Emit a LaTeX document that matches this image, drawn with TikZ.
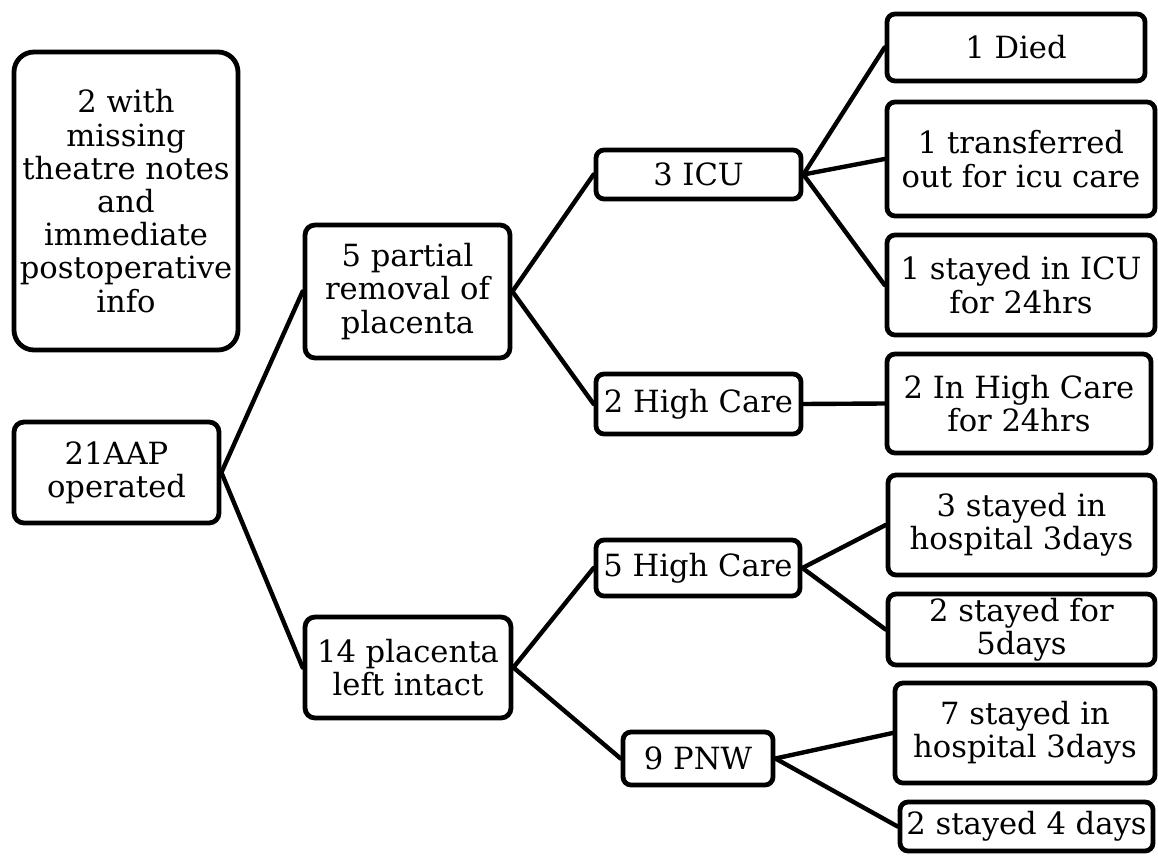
\documentclass[tikz,border=0pt]{standalone}
\usepackage{fontspec}
\setmainfont{DejaVu Serif}
\begin{document}
\begin{tikzpicture}[x=0.5pt, y=-0.5pt,
  box/.style={draw=black, line width=2.4pt, rounded corners=4pt, fill=white,
    inner sep=0pt, align=center,
    font=\fontsize{15.3}{16.6}\selectfont},
  link/.style={draw=black, line width=2.2pt, line cap=round}]
\useasboundingbox (0,0) rectangle (1158,856);

% first column
\node[box, rounded corners=10pt, minimum width=112pt, minimum height=149pt] (miss) at (126,201)
  {2 with\\missing\\theatre notes\\and\\immediate\\postoperative\\info};
\node[box, rounded corners=5pt, minimum width=102.5pt, minimum height=50.5pt] (root) at (116.5,472.5)
  {21AAP\\operated};

% second column
\node[box, rounded corners=5pt, minimum width=102.5pt, minimum height=66.5pt] (partial) at (407.5,291.5)
  {5 partial\\removal of\\placenta};
\node[box, rounded corners=5pt, minimum width=103pt, minimum height=50.5pt] (intact) at (408,667.5)
  {14 placenta\\left intact};

% third column
\node[box, minimum width=102.5pt, minimum height=24.5pt] (icu) at (698.5,174.5) {3 ICU};
\node[box, minimum width=102.5pt, minimum height=30pt] (hcA) at (698.5,404) {2 High Care};
\node[box, minimum width=102pt, minimum height=28pt] (hcB) at (698,568) {5 High Care};
\node[box, minimum width=75pt, minimum height=26.5pt] (pnw) at (698,758.5) {9 PNW};

% outcomes
\node[box, minimum width=129pt, minimum height=33.5pt] (died) at (1016,47.5) {1 Died};
\node[box, minimum width=134pt, minimum height=57pt] (transf) at (1021,159)
  {1 transferred\\out for icu care};
\node[box, minimum width=134pt, minimum height=50pt] (stayicu) at (1021,285)
  {1 stayed in ICU\\for 24hrs};
\node[box, minimum width=132pt, minimum height=49.5pt] (inhc) at (1019,403.5)
  {2 In High Care\\for 24hrs};
\node[box, minimum width=133.5pt, minimum height=50pt] (stThree) at (1021.5,525)
  {3 stayed in\\hospital 3days};
\node[box, minimum width=133.5pt, minimum height=35.5pt] (stFive) at (1021.5,629.5)
  {2 stayed for\\5days};
\node[box, minimum width=130pt, minimum height=50pt] (stSeven) at (1025,733)
  {7 stayed in\\hospital 3days};
\node[box, minimum width=126.5pt, minimum height=24.5pt] (stFour) at (1026.5,826.5)
  {2 stayed 4 days};

% connectors
\draw[link] (root.east) -- (partial.west);
\draw[link] (root.east) -- (intact.west);
\draw[link] (partial.east) -- (icu.west);
\draw[link] (partial.east) -- (hcA.west);
\draw[link] (intact.east) -- (hcB.west);
\draw[link] (intact.east) -- (pnw.west);
\draw[link] (icu.east) -- (died.west);
\draw[link] (icu.east) -- (transf.west);
\draw[link] (icu.east) -- (stayicu.west);
\draw[link] (hcA.east) -- (inhc.west);
\draw[link] (hcB.east) -- (stThree.west);
\draw[link] (hcB.east) -- (stFive.west);
\draw[link] (pnw.east) -- (stSeven.west);
\draw[link] (pnw.east) -- (stFour.west);
\end{tikzpicture}
\end{document}
